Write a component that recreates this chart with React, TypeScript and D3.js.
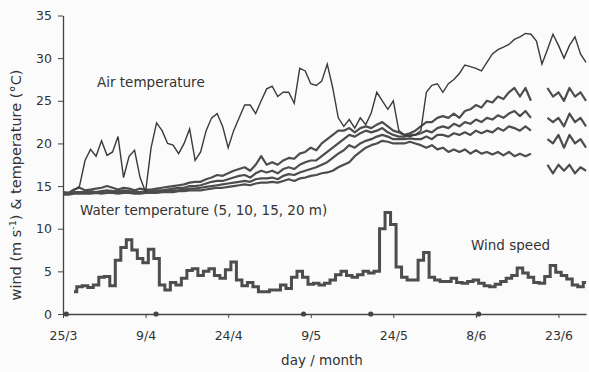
import { useEffect, useRef } from 'react';
import * as d3 from 'd3';

// day index 0 = 25 March, one value per day
const tickDays = [0, 15, 30, 45, 60, 75, 90];
const tickLabels = ['25/3', '9/4', '24/4', '9/5', '24/5', '8/6', '23/6'];
const yTicks = [0, 5, 10, 15, 20, 25, 30, 35];
const sampleDays = [0.6, 16.9, 43.7, 55.9, 75.5];

const airTemp = [
  null, null, 14.5, 15, 18, 19.3, 18.5, 20.3, 18.6, 19,
  20.8, 16, 18.5, 19.2, 16, 14.3, 19.5, 22.4, 21.5, 20,
  19.8, 18.8, 20, 21.7, 18, 19, 21.5, 23, 23.5, 22,
  19.5, 21.5, 23, 24.5, 24.5, 23.5, 25, 26.4, 26.7, 25.5,
  26, 26, 24.7, 28.8, 28.5, 27, 26.8, 27.3, 29.3, 26.5,
  23, 22, 22.8, 21.8, 23, 22.2, 23.6, 26, 25, 24,
  25, 21.5, 21, 20.8, 21, 21.5, 26, 26.8, 27, 26,
  27, 27.5, 28.2, 29.2, 29, 28.8, 28.5, 29.5, 30.5, 31,
  31.3, 31.6, 32.2, 32.5, 32.9, 32.8, 32, 29.3, 31, 32.8,
  31.5, 30, 31.5, 32.5, 30.5, 29.5,
];

const water5 = [
  14.3, 14.2, 14.6, 14.8, 14.5, 14.6, 14.7, 14.8, 15.0, 14.8,
  14.6, 14.8, 14.7, 14.5, 14.7, 14.6, 14.6, 14.7, 14.8, 14.9,
  15.0, 15.1, 15.2, 15.4, 15.5, 15.5, 15.8, 16.0, 16.3, 16.2,
  16.5, 16.8, 17.0, 17.2, 16.8, 17.5, 18.5, 17.5, 17.8, 17.5,
  18.0, 18.3, 18.2, 18.8, 19.0, 19.5, 19.2, 20.0, 20.5, 21.0,
  21.5, 21.5, 21.8, 21.3, 21.8, 22.0, 21.8, 22.2, 22.5, 22.0,
  21.5, 21.3, 21.0, 21.2, 21.5, 22.0, 22.5, 22.5, 23.0, 23.2,
  23.0, 23.5, 23.0, 23.8, 24.0, 24.5, 24.2, 25.0, 24.8, 25.5,
  25.2, 26.0, 26.5, 25.5, 26.5, 25.0, null, null, 26.5, 25.5,
  26.0, 25.0, 26.5, 25.5, 26.0, 25.0,
];

const water10 = [
  14.2, 14.2, 14.3, 14.3, 14.3, 14.4, 14.3, 14.4, 14.5, 14.4,
  14.4, 14.5, 14.4, 14.3, 14.3, 14.4, 14.4, 14.5, 14.5, 14.6,
  14.7, 14.8, 14.8, 15.0, 15.0, 15.1, 15.3, 15.5, 15.6, 15.6,
  15.8, 16.0, 16.2, 16.3, 16.0, 16.5, 16.8, 16.6, 16.8, 16.5,
  17.0, 17.2, 17.0, 17.5, 17.8, 18.0, 18.0, 18.5, 19.0, 19.5,
  20.0, 20.5, 21.0, 20.8, 21.2, 21.5, 21.3, 21.5, 21.8, 21.3,
  21.0, 20.8, 20.8, 21.0, 21.0, 21.2, 21.5, 21.3, 21.8, 22.0,
  21.8, 22.3, 22.0, 22.5, 22.3, 22.8, 22.5, 23.0, 22.8, 23.3,
  23.0, 23.5, 23.8, 23.2, 23.8, 23.0, null, null, 23.0, 22.5,
  23.0, 22.0, 23.5, 22.5, 23.0, 22.0,
];

const water15 = [
  14.1, 14.1, 14.2, 14.2, 14.2, 14.2, 14.3, 14.2, 14.3, 14.3,
  14.2, 14.3, 14.3, 14.2, 14.2, 14.3, 14.3, 14.3, 14.4, 14.4,
  14.5, 14.5, 14.6, 14.7, 14.7, 14.8, 14.9, 15.0, 15.1, 15.2,
  15.3, 15.4, 15.5, 15.6, 15.5, 15.8, 15.9, 15.9, 16.0, 15.8,
  16.2, 16.4, 16.3, 16.6, 16.8, 17.0, 17.2, 17.5, 17.8, 18.3,
  18.8, 19.2, 19.8, 19.5, 20.0, 20.3, 20.5, 20.8, 21.0, 20.8,
  20.5, 20.5, 20.5, 20.6, 20.5, 20.5, 20.8, 20.5, 21.0, 21.0,
  20.8, 21.2, 21.0, 21.3, 21.0, 21.5, 21.2, 21.5, 21.3, 21.8,
  21.5, 22.0, 21.8, 21.5, 22.0, 21.5, null, null, 20.5, 20.0,
  21.0, 19.5, 21.0, 20.0, 20.5, 19.5,
];

const water20 = [
  14.0, 14.0, 14.1, 14.1, 14.1, 14.1, 14.2, 14.1, 14.2, 14.2,
  14.1, 14.2, 14.2, 14.1, 14.1, 14.2, 14.2, 14.2, 14.3, 14.3,
  14.3, 14.4, 14.4, 14.5, 14.5, 14.5, 14.6, 14.7, 14.8, 14.8,
  14.9, 15.0, 15.1, 15.2, 15.1, 15.3, 15.4, 15.4, 15.5, 15.4,
  15.6, 15.8, 15.6, 15.9, 16.0, 16.2, 16.3, 16.5, 16.6, 16.8,
  17.2, 17.5, 17.8, 18.5, 19.0, 19.5, 19.8, 20.0, 20.3, 20.2,
  20.0, 20.0, 20.0, 20.2, 20.0, 19.8, 19.5, 19.8, 19.3, 19.5,
  19.0, 19.3, 19.0, 19.3, 18.8, 19.2, 18.8, 19.0, 18.7, 19.0,
  18.6, 19.0, 18.5, 18.8, 18.5, 18.8, null, null, 17.5, 16.5,
  17.5, 16.8, 17.5, 16.5, 17.2, 16.8,
];

const windSpeed = [
  null, null, 2.6, 3.2, 3.3, 3.1, 3.4, 4.3, 4.4, 3.3,
  6.3, 7.8, 8.7, 7.5, 6.5, 6.0, 7.6, 6.5, 3.4, 2.8,
  3.7, 3.4, 4.2, 5.1, 5.3, 4.5, 5.0, 5.3, 4.5, 4.2,
  5.2, 6.1, 4.0, 3.3, 3.7, 3.2, 2.6, 2.6, 2.8, 2.8,
  3.4, 3.0, 4.3, 5.0, 4.3, 3.5, 3.6, 3.4, 3.6, 4.0,
  4.6, 5.0, 4.5, 4.3, 4.6, 5.0, 4.8, 5.0, 10.0, 11.9,
  10.5, 5.5, 4.3, 4.0, 4.0, 6.3, 7.2, 4.3, 4.0, 3.8,
  3.8, 4.2, 3.7, 3.6, 3.8, 4.0, 3.6, 3.3, 3.2, 3.5,
  3.8, 4.2, 4.5, 5.4, 4.8, 4.3, 3.7, 3.6, 4.4, 5.7,
  4.9, 4.5, 4.1, 3.4, 3.2, 3.7,
];

const FONT = "'DejaVu Sans', Verdana, sans-serif";
const INK = '#333';
const LINE = '#4d4d4d';

const App = () => {
  const svgRef = useRef<SVGSVGElement>(null);

  useEffect(() => {
    const svg = d3.select(svgRef.current);
    svg.selectAll('*').remove();

    const x = d3.scaleLinear().domain([0, 95]).range([63, 586]);
    const y = d3.scaleLinear().domain([0, 35]).range([314, 15.5]);

    const line = d3.line<number | null>()
      .defined(d => d != null)
      .x((_, i) => x(i))
      .y(d => y(d as number));

    // water temperature (four depths)
    [water20, water15, water10, water5].forEach(series => {
      svg.append('path')
        .attr('d', line(series))
        .attr('fill', 'none')
        .attr('stroke', LINE)
        .attr('stroke-width', 2.2)
        .attr('stroke-linejoin', 'round');
    });

    // air temperature
    svg.append('path')
      .attr('d', line(airTemp))
      .attr('fill', 'none')
      .attr('stroke', '#3a3a3a')
      .attr('stroke-width', 1.4);

    // wind speed, stepped like the logger trace
    svg.append('path')
      .attr('d', line.curve(d3.curveStep)(windSpeed))
      .attr('fill', 'none')
      .attr('stroke', LINE)
      .attr('stroke-width', 3);

    // axes
    const yAxis = svg.append('g')
      .attr('transform', 'translate(63,0)')
      .call(d3.axisLeft(y).tickValues(yTicks).tickSize(5).tickSizeOuter(0).tickPadding(6));

    const xAxis = svg.append('g')
      .attr('transform', 'translate(0,314)')
      .call(d3.axisBottom(x).tickValues(tickDays)
        .tickFormat((_, i) => tickLabels[i])
        .tickSize(4).tickSizeOuter(0).tickPadding(13));

    [yAxis, xAxis].forEach(g => {
      g.select('.domain').attr('stroke', '#444').attr('stroke-width', 1.3);
      g.selectAll('.tick line').attr('stroke', '#444');
      g.selectAll('.tick text')
        .attr('fill', INK)
        .style('font-family', FONT)
        .style('font-size', '12.5px');
    });

    // sampling markers on the axis
    svg.selectAll('.mark')
      .data(sampleDays)
      .enter()
      .append('circle')
      .attr('cx', d => x(d))
      .attr('cy', 314)
      .attr('r', 2.6)
      .attr('fill', '#444');

    const label = (tx: number, ty: number, text: string, anchor = 'start') =>
      svg.append('text')
        .attr('x', tx)
        .attr('y', ty)
        .attr('text-anchor', anchor)
        .attr('fill', INK)
        .style('font-family', FONT)
        .style('font-size', '13.5px')
        .text(text);

    label(97, 87, 'Air temperature');
    label(80, 215, 'Water temperature (5, 10, 15, 20 m)');
    label(471, 250, 'Wind speed');
    label(322, 365, 'day / month', 'middle');

    // y axis title
    const yt = svg.append('text')
      .attr('transform', 'translate(21,185) rotate(-90)')
      .attr('text-anchor', 'middle')
      .attr('fill', INK)
      .style('font-family', FONT)
      .style('font-size', '14.5px');
    yt.append('tspan').text('wind (m s');
    yt.append('tspan').attr('dy', -5).style('font-size', '9.5px').text('-1');
    yt.append('tspan').attr('dy', 5).text(') & temperature (°C)');
  }, []);

  return (
    <svg
      ref={svgRef}
      width={589}
      height={372}
      style={{ position: 'absolute', left: 0, top: 0, background: '#fbfbfb' }}
    />
  );
};

export default App;
